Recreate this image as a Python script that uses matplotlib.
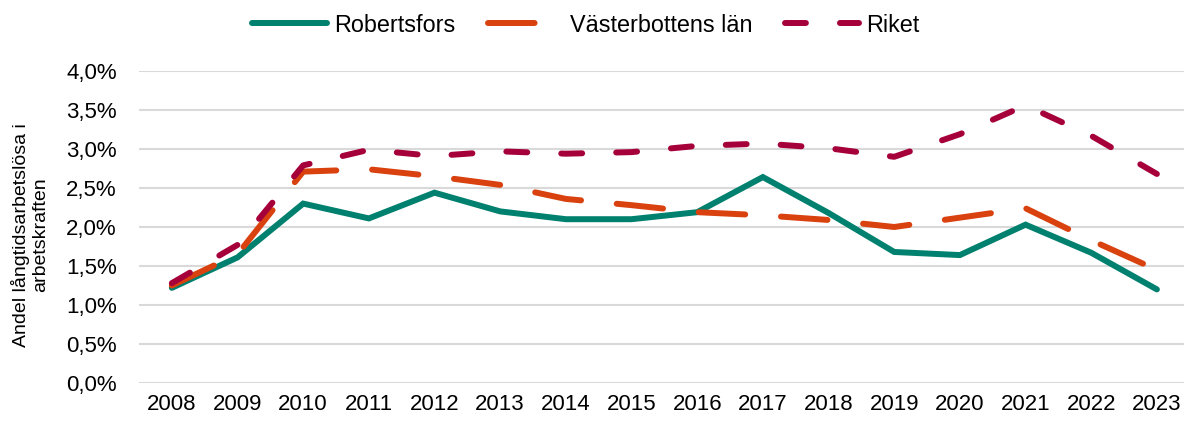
import matplotlib
matplotlib.use("Agg")
import matplotlib.pyplot as plt
from matplotlib.ticker import FuncFormatter, MultipleLocator

plt.rcParams['font.family'] = ['Liberation Sans', 'DejaVu Sans']

years = [str(y) for y in range(2008, 2024)]
robertsfors = [1.22, 1.61, 2.30, 2.11, 2.44, 2.20, 2.10, 2.10, 2.19, 2.64, 2.18, 1.68, 1.64, 2.03, 1.67, 1.20]
vasterbotten = [1.25, 1.65, 2.71, 2.74, 2.65, 2.54, 2.36, 2.28, 2.19, 2.15, 2.09, 2.00, 2.12, 2.24, 1.83, 1.45]
riket = [1.28, 1.77, 2.79, 2.99, 2.91, 2.97, 2.94, 2.96, 3.04, 3.07, 3.01, 2.90, 3.19, 3.56, 3.17, 2.68]

W, H = 1186, 421
fig = plt.figure(figsize=(W / 100, H / 100), dpi=100)
left, right, top, bottom = 139, 1184, 71, 383
ax = fig.add_axes([left / W, 1 - bottom / H, (right - left) / W, (bottom - top) / H])

x = list(range(len(years)))
lw = 4.3
ax.plot(x, robertsfors, color='#00806E', lw=lw, solid_capstyle='round', solid_joinstyle='miter', label='Robertsfors', zorder=3)
ax.plot(x, vasterbotten, color='#D9410F', lw=lw, dashes=(7.8, 6.0), dash_capstyle='round', label='Västerbottens län', zorder=4)
ax.plot(x, riket, color='#A6003A', lw=lw, dashes=(3.5, 5.7), dash_capstyle='round', label='Riket', zorder=5)

step = 65.67
ax.set_xlim(-0.5, -0.5 + (right - left) / step)
ax.set_ylim(0, 4.0)
ax.yaxis.set_major_locator(MultipleLocator(0.5))
ax.yaxis.set_major_formatter(FuncFormatter(lambda v, p: f"{v:.1f}%".replace('.', ',')))
ax.set_xticks(x)
ax.set_xticklabels(years)
ax.grid(axis='y', color='#D9D9D9', lw=1.5)
ax.set_axisbelow(True)
for s in ax.spines.values():
    s.set_visible(False)
ax.tick_params(axis='both', length=0, labelsize=16, colors='black')
ax.tick_params(axis='y', pad=16)
ax.tick_params(axis='x', pad=8)

fig.text(30 / W, 1 - 235 / H, 'Andel långtidsarbetslösa i\narbetskraften', rotation=90,
         ha='center', va='center', multialignment='center', fontsize=14, linespacing=1.15)

fig.legend(loc='center', bbox_to_anchor=(586 / W, 1 - 25 / H), ncol=3, frameon=False,
           fontsize=16.8, handlelength=3.2, handletextpad=0.3, columnspacing=1.4)

fig.savefig('out.png', dpi=100)
